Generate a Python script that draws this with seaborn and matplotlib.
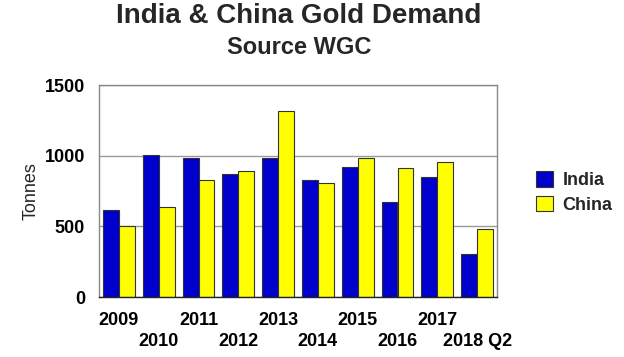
import matplotlib
matplotlib.use('Agg')
import matplotlib.pyplot as plt
import pandas as pd
import seaborn as sns

# values (tonnes)
PERIODS = ['2009', '2010', '2011', '2012', '2013', '2014',
           '2015', '2016', '2017', '2018 Q2']
INDIA = [618, 1002, 981, 872, 981, 827, 922, 673, 848, 303]
CHINA = [500, 640, 827, 888, 1313, 808, 981, 915, 952, 481]
SERIES = ['India', 'China']
COLORS = {'India': '#0000CC', 'China': '#FFFF00'}
Y_TICKS = [0, 500, 1000, 1500]

df = pd.DataFrame({
    'period': PERIODS * 2,
    'tonnes': INDIA + CHINA,
    'country': ['India'] * len(PERIODS) + ['China'] * len(PERIODS),
})

sns.set_theme(style='white')
plt.rcParams['font.family'] = ['Liberation Sans', 'DejaVu Sans']

fig = plt.figure(figsize=(6.24, 3.57), dpi=100)
ax = fig.add_axes([99 / 624, 60 / 357, 398 / 624, 212 / 357])

sns.barplot(data=df, x='period', y='tonnes', hue='country',
            order=PERIODS, hue_order=SERIES, palette=COLORS,
            width=0.8, edgecolor='#333333', linewidth=0.8,
            saturation=1, ax=ax, legend=False)

ax.set_ylim(0, 1500)
ax.set_xlim(-0.5, len(PERIODS) - 0.5)
ax.set_yticks(Y_TICKS)
ax.set_yticklabels([str(t) for t in Y_TICKS], fontsize=13, fontweight='bold')
ax.yaxis.grid(True, color='#999999', linewidth=1)
ax.set_axisbelow(True)
for s in ax.spines.values():
    s.set_color('#888888')
    s.set_linewidth(1)
ax.spines['bottom'].set_color('#222222')

# staggered period labels: even ones on major ticks, odd ones one row lower
even = list(range(0, len(PERIODS), 2))
odd = list(range(1, len(PERIODS), 2))
ax.set_xticks(even)
ax.set_xticklabels([PERIODS[i] for i in even], fontsize=13, fontweight='bold')
ax.set_xticks(odd, minor=True)
ax.set_xticklabels([PERIODS[i] for i in odd], minor=True, fontsize=13, fontweight='bold')
ax.tick_params(axis='x', which='major', length=0, pad=11, colors='black')
ax.tick_params(axis='x', which='minor', length=0, pad=26, colors='black')
ax.tick_params(axis='y', length=0, pad=10, colors='black')

ax.set_xlabel('')
ax.set_ylabel('Tonnes', fontsize=13)
ax.yaxis.set_label_coords(-0.15, 0.5)

handles = [plt.Rectangle((0, 0), 1, 1, facecolor=COLORS[s], edgecolor='#333333',
                         linewidth=0.8) for s in SERIES]
fig.legend(handles, SERIES, loc='upper left',
           bbox_to_anchor=(520 / 624, 1 - 155 / 357),
           frameon=False, prop={'size': 13, 'weight': 'bold'},
           handlelength=0.95, handleheight=0.95, handletextpad=0.5,
           labelspacing=0.35)

fig.text(299 / 624, 1 - 16 / 357, 'India & China Gold Demand', ha='center', va='center',
         fontsize=20, fontweight='bold')
fig.text(299 / 624, 1 - 47 / 357, 'Source WGC', ha='center', va='center',
         fontsize=17, fontweight='bold')

fig.savefig('out.png', dpi=100, facecolor='white')
